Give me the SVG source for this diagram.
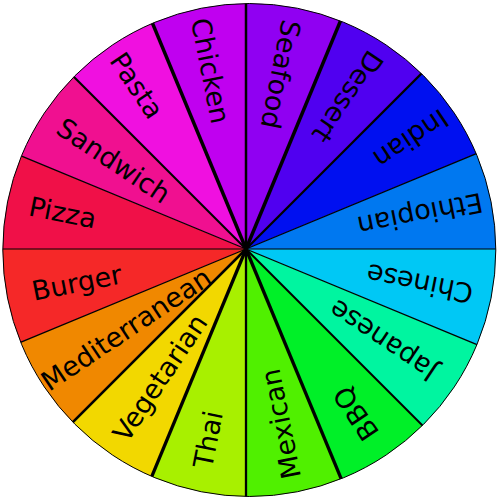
<svg xmlns="http://www.w3.org/2000/svg" width="500" height="500" viewBox="0 0 500 500">
<defs>
<clipPath id="wheel"><circle cx="249.3" cy="250" r="246.5"/></clipPath>
<style>
text{font-family:"DejaVu Sans","Liberation Sans",sans-serif;font-size:27px;fill:#000}
.b{stroke:#000;fill:none;stroke-linecap:butt}
</style>
</defs>
<rect width="500" height="500" fill="#fff"/>
<g clip-path="url(#wheel)">
<g id="seafood"><polygon points="246,249 246,-151 399.07,-120.55" fill="#9000f2"/></g>
<g id="dessert"><polygon points="246,249 399.07,-120.55 528.84,-33.84" fill="#5000f0"/></g>
<g id="indian"><polygon points="246,249 528.84,-33.84 615.55,95.93" fill="#0010f0"/></g>
<g id="ethiopian"><polygon points="246,249 615.55,95.93 646,249" fill="#0078f0"/></g>
<g id="chinese"><polygon points="246,249 646,249 615.55,402.07" fill="#00c8f5"/></g>
<g id="japanese"><polygon points="246,249 615.55,402.07 528.84,531.84" fill="#00f5a0"/></g>
<g id="bbq"><polygon points="246,249 528.84,531.84 399.07,618.55" fill="#00f028"/></g>
<g id="mexican"><polygon points="246,249 399.07,618.55 246,649" fill="#50f000"/></g>
<g id="thai"><polygon points="246,249 246,649 92.93,618.55" fill="#a8f000"/></g>
<g id="vegetarian"><polygon points="246,249 92.93,618.55 -36.84,531.84" fill="#f2d800"/></g>
<g id="mediterranean"><polygon points="246,249 -36.84,531.84 -123.55,402.07" fill="#f08800"/></g>
<g id="burger"><polygon points="246,249 -123.55,402.07 -154,249" fill="#f52828"/></g>
<g id="pizza"><polygon points="246,249 -154,249 -123.55,95.93" fill="#f01048"/></g>
<g id="sandwich"><polygon points="246,249 -123.55,95.93 -36.84,-33.84" fill="#f01090"/></g>
<g id="pasta"><polygon points="246,249 -36.84,-33.84 92.93,-120.55" fill="#f010e0"/></g>
<g id="chicken"><polygon points="246,249 92.93,-120.55 246,-151" fill="#c000f0"/></g>
<g id="connectors">
<line class="b" x1="246" y1="249" x2="246" y2="-151" stroke-width="2.5"/>
<line class="b" x1="246" y1="249" x2="399.07" y2="-120.55" stroke-width="3.5"/>
<line class="b" x1="246" y1="249" x2="528.84" y2="-33.84" stroke-width="2.3"/>
<line class="b" x1="246" y1="249" x2="615.55" y2="95.93" stroke-width="1.3"/>
<line class="b" x1="246" y1="249" x2="646" y2="249" stroke-width="1"/>
<line class="b" x1="246" y1="249" x2="615.55" y2="402.07" stroke-width="1.3"/>
<line class="b" x1="246" y1="249" x2="528.84" y2="531.84" stroke-width="2"/>
<line class="b" x1="246" y1="249" x2="399.07" y2="618.55" stroke-width="3.3"/>
<line class="b" x1="246" y1="249" x2="246" y2="649" stroke-width="2.3"/>
<line class="b" x1="246" y1="249" x2="92.93" y2="618.55" stroke-width="3.3"/>
<line class="b" x1="246" y1="249" x2="-36.84" y2="531.84" stroke-width="2.5"/>
<line class="b" x1="246" y1="249" x2="-123.55" y2="402.07" stroke-width="1.3"/>
<line class="b" x1="246" y1="249" x2="-154" y2="249" stroke-width="1"/>
<line class="b" x1="246" y1="249" x2="-123.55" y2="95.93" stroke-width="1.3"/>
<line class="b" x1="246" y1="249" x2="-36.84" y2="-33.84" stroke-width="2"/>
<line class="b" x1="246" y1="249" x2="92.93" y2="-120.55" stroke-width="3.5"/>
</g>
</g>
<circle cx="249.3" cy="250" r="246.5" fill="none" stroke="#000" stroke-width="1"/>
<g id="labels">
<text transform="translate(246,249) rotate(101.25)" x="-233" y="9.5">Seafood</text>
<text transform="translate(246,249) rotate(123.75)" x="-235" y="9.5">Dessert</text>
<text transform="translate(246,249) rotate(146.25)" x="-240" y="9.5">Indian</text>
<text transform="translate(246,249) rotate(168.75)" x="-241" y="9.5">Ethiopian</text>
<text transform="translate(246,249) rotate(191.25)" x="-231" y="9.5">Chinese</text>
<text transform="translate(246,249) rotate(213.75)" x="-226" y="9.5">Japanese</text>
<text transform="translate(246,249) rotate(236.25)" x="-227" y="9.5">BBQ</text>
<text transform="translate(246,249) rotate(258.75)" x="-234" y="9.5">Mexican</text>
<text transform="translate(246,249) rotate(281.25)" x="-223" y="9.5">Thai</text>
<text transform="translate(246,249) rotate(303.75)" x="-228" y="9.5">Vegetarian</text>
<text transform="translate(246,249) rotate(326.25)" x="-243" y="9.5">Mediterranean</text>
<text transform="translate(246,249) rotate(348.75)" x="-218" y="9.5">Burger</text>
<text transform="translate(246,249) rotate(11.25)" x="-221" y="9.5">Pizza</text>
<text transform="translate(246,249) rotate(33.75)" x="-224" y="9.5">Sandwich</text>
<text transform="translate(246,249) rotate(56.25)" x="-233" y="9.5">Pasta</text>
<text transform="translate(246,249) rotate(78.75)" x="-235" y="9.5">Chicken</text>
</g>
</svg>
